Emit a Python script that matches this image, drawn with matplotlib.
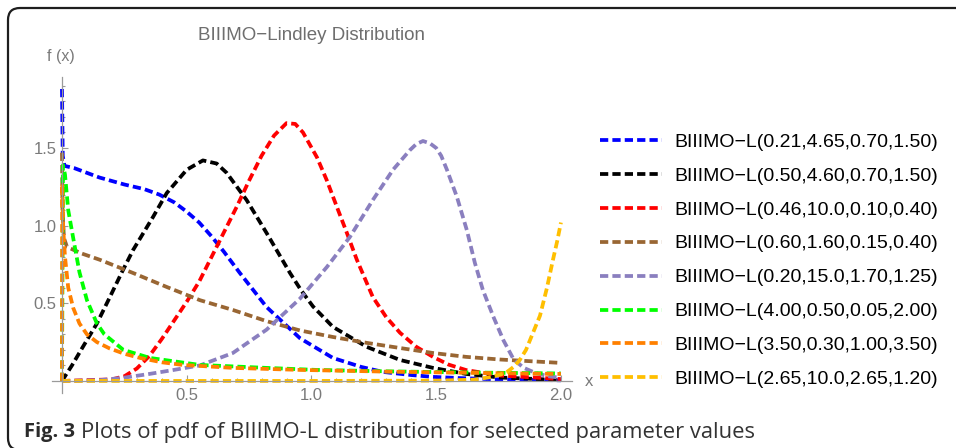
import numpy as np
import matplotlib
matplotlib.use("Agg")
import matplotlib.pyplot as plt
from matplotlib.patches import FancyBboxPatch
from matplotlib.transforms import IdentityTransform

plt.rcParams['font.family'] = ['Liberation Sans', 'DejaVu Sans']

# pdf curves of the BIIIMO-Lindley family, one (x, f(x)) pair per parameter set
labels = [
    "BIIIMO\u2212L(0.21,4.65,0.70,1.50)",
    "BIIIMO\u2212L(0.50,4.60,0.70,1.50)",
    "BIIIMO\u2212L(0.46,10.0,0.10,0.40)",
    "BIIIMO\u2212L(0.60,1.60,0.15,0.40)",
    "BIIIMO\u2212L(0.20,15.0,1.70,1.25)",
    "BIIIMO\u2212L(4.00,0.50,0.05,2.00)",
    "BIIIMO\u2212L(3.50,0.30,1.00,3.50)",
    "BIIIMO\u2212L(2.65,10.0,2.65,1.20)",
]
colors = ["#0000ff", "#000000", "#ff0000", "#996633",
          "#8a7fbf", "#00ff00", "#ff8000", "#ffbf00"]

x_blue = [0, 0.003, 0.01, 0.05, 0.15, 0.25, 0.33, 0.39, 0.45, 0.5, 0.55, 0.6, 0.65,
          0.713, 0.82, 0.954, 1.086, 1.2, 1.287, 1.4, 1.487, 1.6, 1.75, 2.0]
y_blue = [1.88, 1.45, 1.385, 1.37, 1.31, 1.265, 1.235, 1.2, 1.15, 1.09, 1.02, 0.93,
          0.83, 0.695, 0.476, 0.275, 0.148, 0.09, 0.058, 0.038, 0.026, 0.018, 0.01,
          0.004]

x_black = [0, 0.04, 0.084, 0.14, 0.192, 0.24, 0.285, 0.365, 0.42, 0.5, 0.565, 0.62,
           0.66, 0.74, 0.82, 0.914, 0.96, 1.006, 1.086, 1.222, 1.355, 1.487, 1.62,
           1.755, 2.0]
y_black = [0, 0.1, 0.22, 0.37, 0.54, 0.7, 0.843, 1.056, 1.21, 1.36, 1.42, 1.40,
           1.34, 1.165, 0.953, 0.695, 0.58, 0.48, 0.348, 0.219, 0.135, 0.084, 0.045,
           0.022, 0.006]

x_red = [0, 0.2, 0.25, 0.3, 0.35, 0.4, 0.45, 0.5, 0.55, 0.6, 0.65, 0.7, 0.75, 0.8,
         0.85, 0.9, 0.935, 0.966, 1.022, 1.062, 1.102, 1.142, 1.182, 1.246, 1.3,
         1.355, 1.42, 1.487, 1.55, 1.62, 1.755, 2.0]
y_red = [0, 0.01, 0.03, 0.08, 0.16, 0.27, 0.39, 0.51, 0.64, 0.8, 0.96, 1.12, 1.29,
         1.45, 1.58, 1.66, 1.655, 1.6, 1.44, 1.29, 1.12, 0.953, 0.78, 0.54, 0.41,
         0.31, 0.22, 0.155, 0.105, 0.07, 0.035, 0.012]

x_brown = [0, 0.002, 0.008, 0.02, 0.08, 0.152, 0.285, 0.42, 0.553, 0.685, 0.82,
           0.954, 1.086, 1.222, 1.355, 1.487, 1.62, 1.755, 2.0]
y_brown = [1.47, 1.1, 0.92, 0.863, 0.82, 0.78, 0.695, 0.605, 0.52, 0.457, 0.385,
           0.325, 0.283, 0.245, 0.212, 0.18, 0.155, 0.138, 0.116]

x_purple = [0, 0.15, 0.245, 0.35, 0.445, 0.553, 0.685, 0.82, 0.954, 1.062, 1.154,
            1.246, 1.327, 1.395, 1.42, 1.447, 1.475, 1.5, 1.52, 1.543, 1.583,
            1.623, 1.655, 1.687, 1.729, 1.77, 1.81, 1.85, 1.9, 1.95, 2.0]
y_purple = [0, 0.005, 0.02, 0.045, 0.07, 0.1, 0.18, 0.33, 0.53, 0.734, 0.927,
            1.165, 1.36, 1.487, 1.525, 1.545, 1.53, 1.5, 1.45, 1.36, 1.185,
            0.97, 0.76, 0.586, 0.414, 0.26, 0.14, 0.085, 0.05, 0.03, 0.02]

x_green = [0, 0.004, 0.012, 0.025, 0.045, 0.07, 0.1, 0.14, 0.17, 0.246, 0.353,
           0.553, 0.82, 1.02, 1.3, 1.6, 2.0]
y_green = [0, 1.39, 1.33, 1.1, 0.92, 0.7, 0.52, 0.37, 0.3, 0.2, 0.148,
           0.103, 0.084, 0.071, 0.062, 0.055, 0.048]

x_orange = [0, 0.001, 0.005, 0.012, 0.025, 0.045, 0.07, 0.1, 0.14, 0.19, 0.25,
            0.313, 0.4, 0.485, 0.685, 0.954, 1.3, 1.6, 2.0]
y_orange = [0, 1.27, 0.98, 0.8, 0.6, 0.47, 0.37, 0.3, 0.25, 0.21, 0.175,
            0.148, 0.12, 0.103, 0.084, 0.071, 0.06, 0.053, 0.045]

x_gold = [0, 0.5, 1.0, 1.5, 1.65, 1.72, 1.76, 1.784, 1.81, 1.835, 1.86, 1.888,
          1.916, 1.944, 1.968, 1.985, 2.0]
y_gold = [0, 0, 0, 0.002, 0.008, 0.025, 0.042, 0.058, 0.09, 0.135, 0.2, 0.31,
          0.42, 0.6, 0.78, 0.9, 1.02]

curves = [(x_blue, y_blue), (x_black, y_black), (x_red, y_red), (x_brown, y_brown),
          (x_purple, y_purple), (x_green, y_green), (x_orange, y_orange),
          (x_gold, y_gold)]

x_ticks = [0.5, 1.0, 1.5, 2.0]
y_ticks = [0.5, 1.0, 1.5]

fig = plt.figure(figsize=(9.56, 4.48), dpi=100)
ax = fig.add_axes([0.0544, 0.1237, 0.5441, 0.7054])

handles = []
for (xs, ys), c, lab in zip(curves, colors, labels):
    ln, = ax.plot(xs, ys, color=c, lw=2.7, dashes=(2.2, 1.1),
                  dash_capstyle='butt', label=lab)
    handles.append(ln)

ax.set_xlim(-0.04, 2.045)
ax.set_ylim(-0.075, 1.96)

axis_gray = "#9a9a9a"
for side in ("top", "right"):
    ax.spines[side].set_visible(False)
ax.spines["left"].set_position(("data", 0))
ax.spines["bottom"].set_position(("data", 0))
for side in ("left", "bottom"):
    ax.spines[side].set_color(axis_gray)
    ax.spines[side].set_linewidth(0.9)

ax.set_xticks(x_ticks)
ax.set_xticklabels(["%.1f" % t for t in x_ticks])
ax.set_yticks(y_ticks)
ax.set_yticklabels(["%.1f" % t for t in y_ticks])
ax.set_xticks(np.arange(0.1, 2.01, 0.1), minor=True)
ax.set_yticks(np.arange(0.1, 1.95, 0.1), minor=True)
ax.tick_params(which="both", direction="in", color=axis_gray, width=0.8,
               labelcolor="#7a7a7a", labelsize=12)
ax.tick_params(which="major", length=4.5)
ax.tick_params(which="minor", length=2.5)
ax.tick_params(axis="x", pad=5)
ax.tick_params(axis="y", pad=4)
ax.patch.set_alpha(0)

fig.text(311 / 956, 1 - 36 / 448, "BIIIMO\u2212Lindley Distribution",
         ha="center", va="center", fontsize=13.5, color="#6e6e6e")
fig.text(61 / 956, 1 - 57 / 448, "f (x)", ha="center", va="center",
         fontsize=11.5, color="#7a7a7a")
fig.text(589 / 956, 1 - 381 / 448, "x", ha="center", va="center",
         fontsize=12, color="#7a7a7a")

fig.legend(handles=handles, loc="upper left",
           bbox_to_anchor=(600 / 956, 1 - 133 / 448),
           frameon=False, fontsize=14, handlelength=3.2, handletextpad=0.62,
           labelspacing=0.84, borderpad=0, borderaxespad=0)

# caption: bold figure number followed by the regular description
cap_y = 1 - 432 / 448
t1 = fig.text(24 / 956, cap_y, "Fig. 3", fontsize=14.5, fontweight="bold",
              family=["Open Sans", "DejaVu Sans"], color="#2b2b2b", va="center")
fig.canvas.draw()
bb = t1.get_window_extent(renderer=fig.canvas.get_renderer())
fig.text((bb.x1 + 6) / 956, cap_y,
         "Plots of pdf of BIIIMO-L distribution for selected parameter values",
         fontsize=15.8, family=["Open Sans", "DejaVu Sans"], color="#333333",
         va="center")

# rounded frame around the figure panel
frame = FancyBboxPatch((8, -2), 1000, 442, boxstyle="round,pad=0,rounding_size=12",
                       transform=IdentityTransform(), fill=False,
                       edgecolor="#1e1e1e", linewidth=1.6)
fig.add_artist(frame)

fig.savefig("out.png", dpi=100)
